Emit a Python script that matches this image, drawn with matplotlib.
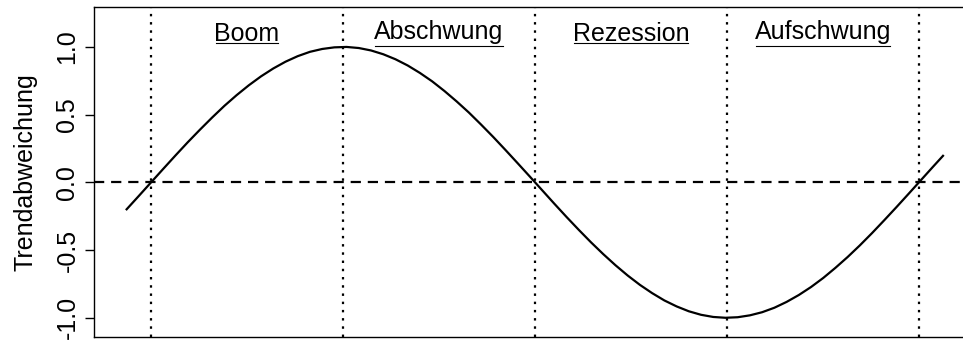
import matplotlib
matplotlib.use("Agg")
import matplotlib.pyplot as plt
from matplotlib.lines import Line2D
from matplotlib.textpath import TextPath
from matplotlib.font_manager import FontProperties

# curve (x in radians, y = trend deviation)
x_vals = [-0.2, -0.1, 0.0, 0.1, 0.2, 0.3, 0.4, 0.5, 0.6, 0.7, 0.8, 0.9, 1.0,
          1.1, 1.2, 1.3, 1.4, 1.5, 1.6, 1.7, 1.8, 1.9, 2.0, 2.1, 2.2, 2.3,
          2.4, 2.5, 2.6, 2.7, 2.8, 2.9, 3.0, 3.1, 3.2, 3.3, 3.4, 3.5, 3.6,
          3.7, 3.8, 3.9, 4.0, 4.1, 4.2, 4.3, 4.4, 4.5, 4.6, 4.7, 4.8, 4.9,
          5.0, 5.1, 5.2, 5.3, 5.4, 5.5, 5.6, 5.7, 5.8, 5.9, 6.0, 6.1, 6.2,
          6.3, 6.4, 6.48]
y_vals = [-0.199, -0.100, 0.000, 0.100, 0.199, 0.296, 0.389, 0.479, 0.565,
          0.644, 0.717, 0.783, 0.841, 0.891, 0.932, 0.964, 0.985, 0.997,
          1.000, 0.992, 0.974, 0.946, 0.909, 0.863, 0.808, 0.746, 0.675,
          0.598, 0.516, 0.427, 0.335, 0.239, 0.141, 0.042, -0.058, -0.158,
          -0.256, -0.351, -0.443, -0.530, -0.612, -0.688, -0.757, -0.818,
          -0.872, -0.916, -0.952, -0.978, -0.994, -1.000, -0.996, -0.982,
          -0.959, -0.926, -0.883, -0.832, -0.773, -0.706, -0.631, -0.551,
          -0.465, -0.374, -0.279, -0.182, -0.083, 0.017, 0.117, 0.196]

# phase boundaries and phase names
phase_bounds = [0.0, 1.5708, 3.1416, 4.7124, 6.2832]
phase_names = ["Boom", "Abschwung", "Rezession", "Aufschwung"]
label_y = 1.11

y_ticks = [-1.0, -0.5, 0.0, 0.5, 1.0]
y_ticklabels = ["-1.0", "-0.5", "0.0", "0.5", "1.0"]

font = "Liberation Sans"
fs = 18
dpi = 100
W, H = 963, 340

plt.rcParams["font.family"] = font
fig = plt.figure(figsize=(W / dpi, H / dpi), dpi=dpi)
ax = fig.add_axes([94 / W, 3 / H, 882 / W, 330 / H])

ax.plot(x_vals, y_vals, color="black", lw=1.6, solid_joinstyle="round")
ax.axhline(0, color="black", lw=1.6, dashes=(4.6, 3.1))
for b in phase_bounds:
    ax.axvline(b, color="black", lw=1.6, dashes=(1.1, 2.6))

ax.set_xlim(-0.467, 6.75)
ax.set_ylim(-1.142, 1.295)
ax.set_xticks([])
ax.set_yticks(y_ticks)
ax.set_yticklabels(y_ticklabels, rotation=90, va="center", fontsize=fs)
ax.tick_params(axis="y", length=6.5, width=1.0, pad=4)
for sp in ax.spines.values():
    sp.set_linewidth(1.0)

ax.set_ylabel("Trendabweichung", fontsize=fs)
ax.yaxis.set_label_coords(-0.064, 0.5)

# underlined phase labels, ink centred on label_y like R plotmath
fprop = FontProperties(family=font, size=fs)
to_fig = fig.transFigure.inverted()
for i, name in enumerate(phase_names):
    xm = (phase_bounds[i] + phase_bounds[i + 1]) / 2
    ext = TextPath((0, 0), name, size=fs, prop=fprop).get_extents()
    k = dpi / 72.0
    cx, cy = ax.transData.transform((xm, label_y))
    base = cy - (ext.y0 + ext.y1) / 2 * k
    fx, fy = to_fig.transform((cx, base))
    fig.text(fx, fy, name, ha="center", va="baseline", fontsize=fs)
    uy = base + ext.y0 * k - 2.0
    if ext.y0 > 0:
        uy = base - 2.0
    w = (ext.x1 - ext.x0) * k
    p0 = to_fig.transform((cx - w / 2, uy))
    p1 = to_fig.transform((cx + w / 2, uy))
    fig.add_artist(Line2D([p0[0], p1[0]], [p0[1], p1[1]], color="black", lw=0.8,
                          transform=fig.transFigure))

fig.savefig("out.png", dpi=dpi)
